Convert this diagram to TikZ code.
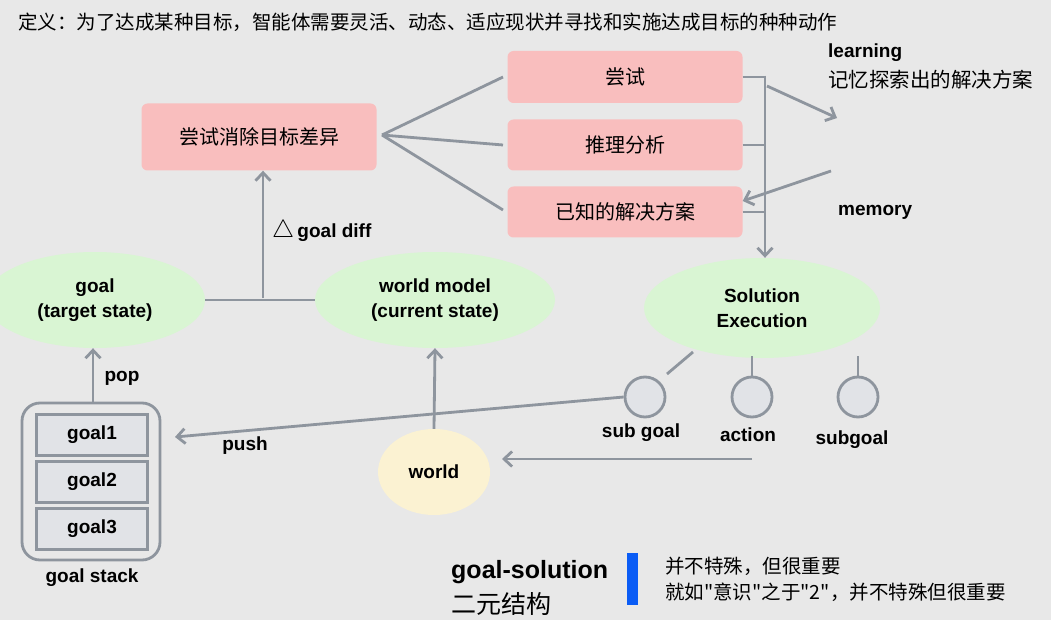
\documentclass[tikz,border=0pt]{standalone}
\usepackage{fontspec}
\setmainfont{Liberation Sans}
\newfontfamily\cjk{Noto Sans CJK SC}
\usetikzlibrary{arrows.meta,shapes.geometric}
\definecolor{bg}{HTML}{E8E8E8}
\definecolor{ln}{HTML}{8E959E}
\definecolor{pk}{HTML}{F9BEBE}
\definecolor{gr}{HTML}{D9F5D3}
\definecolor{yl}{HTML}{FBF2D2}
\definecolor{cir}{HTML}{E1E3E7}
\definecolor{bl}{HTML}{0A5CF5}
\tikzset{
  pbox/.style={fill=pk,rounded corners=6pt,minimum height=52pt,inner sep=0pt,font=\cjk\fontsize{20}{22}\selectfont},
  ell/.style={ellipse,fill=gr,inner sep=0pt,align=center,font=\bfseries\fontsize{19}{25}\selectfont},
  lnk/.style={draw=ln,line width=2.8pt},
  arr/.style={lnk,-{Straight Barb[length=8pt,width=15pt]}},
  lbl/.style={font=\bfseries\fontsize{19}{22}\selectfont,inner sep=0pt},
  sc/.style={circle,draw=ln,line width=2.8pt,fill=cir,minimum size=40pt,inner sep=0pt},
  gbox/.style={draw=ln,line width=2.8pt,fill=cir,minimum width=111pt,minimum height=41pt,inner sep=0pt,font=\bfseries\fontsize{19}{22}\selectfont}
}
\begin{document}
\begin{tikzpicture}[x=1pt,y=-1pt]
\fill[bg] (0,0) rectangle (1051,620);
\useasboundingbox (0,0) rectangle (1051,620);
\node[anchor=west,inner sep=0pt,font=\cjk\fontsize{19.5}{22}\selectfont] (title) at (18,22) {定义：为了达成某种目标，智能体需要灵活、动态、适应现状并寻找和实施达成目标的种种动作};
\node[pbox,minimum width=235pt,minimum height=67pt] (diff) at (259,137) {尝试消除目标差异};
\node[pbox,minimum width=235pt] (try) at (625,77) {尝试};
\node[pbox,minimum width=235pt,minimum height=51pt] (reason) at (625,145) {推理分析};
\node[pbox,minimum width=235pt,minimum height=51pt] (known) at (625,212) {已知的解决方案};
\coordinate (dr) at (382,135);
\draw[lnk] (dr) -- (503,77);
\draw[lnk] (dr) -- (503,145);
\draw[lnk] (dr) -- (503,210);
\node[ell,minimum width=236pt,minimum height=100pt] (sol) at (762,308) {Solution\\Execution};
\draw[lnk] (try.east) -- (765,77);
\draw[lnk] (reason.east) -- (765,145);
\draw[lnk] (known.east) -- (765,212);
\draw[arr] (765,75.6) -- (sol.north -| 765,0);
\node[lbl,anchor=west] (learn) at (828,53) {learning};
\node[anchor=west,inner sep=0pt,font=\cjk\fontsize{20.5}{22}\selectfont] (mem1) at (828,80) {记忆探索出的解决方案};
\node[lbl,anchor=west] (memory) at (838,212) {memory};
\coordinate (l1) at (767,86);
\coordinate (l2) at (837,118);
\draw[arr] (l1) -- (l2);
\coordinate (m1) at (831,171);
\draw[arr] (m1) -- (known.east |- 0,201);
\node[ell,minimum width=220pt,minimum height=96pt] (goal) at (95,300) {goal\\(target state)};
\node[ell,minimum width=240pt,minimum height=96pt] (wm) at (435,300) {world model\\(current state)};
\draw[lnk] (goal.east) -- (wm.west);
\coordinate (gd) at (263,298);
\draw[arr] (gd) -- (diff.south -| gd);
\node[lbl,anchor=west] (gdl) at (272,231) {\fontsize{26}{26}\selectfont$\bigtriangleup$\fontsize{19}{22}\selectfont\,goal diff};
\node[sc] (c1) at (645,397) {};
\node[sc] (c2) at (752,397) {};
\node[sc] (c3) at (858,397) {};
\draw[lnk] (693,352) -- (667,374);
\draw[lnk] (c2.north |- 0,356) -- (c2.north);
\draw[lnk] (c3.north |- 0,356) -- (c3.north);
\node[lbl] (l_c1) at (641,433) {sub goal};
\node[lbl] (l_c2) at (748,435) {action};
\node[lbl] (l_c3) at (852,440) {subgoal};
\node[ellipse,fill=yl,minimum width=112pt,minimum height=86pt,inner sep=0pt,font=\bfseries\fontsize{19}{22}\selectfont] (world) at (434,472) {world};
\draw[arr] (world.north) -- (wm.south);
\draw[arr] (752,459) -- (502,459);
\draw[draw=ln,line width=2.8pt,fill=bg,rounded corners=18pt] (22,403) rectangle (160,560);
\node[gbox] (g1) at (92,435) {goal1};
\node[gbox] (g2) at (92,482) {goal2};
\node[gbox] (g3) at (92,529) {goal3};
\node[lbl] (gs) at (92,578) {goal stack};
\draw[arr] (93,403) -- (goal.south -| 93,0);
\node[lbl] (pop) at (122,378) {pop};
\draw[arr] (c1.west) -- (175,437);
\node[lbl] (push) at (245,446) {push};
\node[anchor=west,inner sep=0pt,font=\bfseries\fontsize{25}{28}\selectfont] (gsol) at (451,572) {goal-solution};
\node[anchor=west,inner sep=0pt,font=\cjk\fontsize{25}{28}\selectfont] (eryuan) at (451,604) {二元结构};
\fill[bl] (627,553) rectangle (638,605);
\node[anchor=west,inner sep=0pt,font=\cjk\fontsize{19.5}{22}\selectfont] (t1) at (665,566) {并不特殊，但很重要};
\node[anchor=west,inner sep=0pt,font=\cjk\fontsize{19.5}{22}\selectfont] (t2) at (665,592) {就如"意识"之于"2"，并不特殊但很重要};
\end{tikzpicture}
\end{document}
